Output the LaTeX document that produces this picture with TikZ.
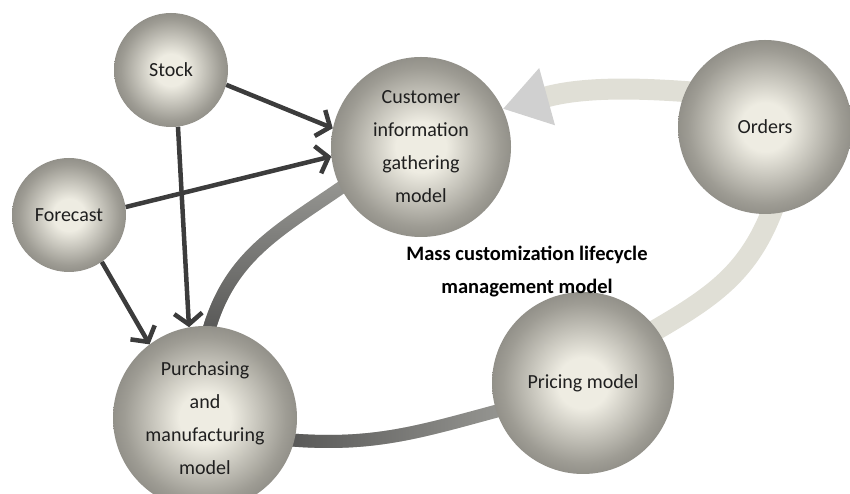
\documentclass[tikz,border=0pt]{standalone}
\usepackage{fontspec}
\setmainfont{Carlito}
\usetikzlibrary{arrows.meta,backgrounds,fadings}

\definecolor{ballin}{RGB}{238,236,226}
\definecolor{ballmid}{RGB}{158,156,148}
\definecolor{balldeep}{RGB}{100,99,95}
\definecolor{ballout}{RGB}{68,67,64}
\definecolor{linkdark}{RGB}{60,60,60}
\definecolor{loopdark}{RGB}{88,88,87}
\definecolor{loopmid}{RGB}{150,150,146}
\definecolor{looplight}{RGB}{224,223,214}
\definecolor{headgray}{RGB}{208,208,208}

\pgfdeclareradialshading{ballshade}{\pgfpoint{0bp}{0bp}}{%
  color(0bp)=(ballin); color(7bp)=(ballin); color(22bp)=(ballmid);
  color(37bp)=(balldeep); color(50bp)=(ballout)}
\tikzfading[name=fade right, left color=transparent!0, right color=transparent!100]
\tikzfading[name=fade up, bottom color=transparent!0, top color=transparent!100]

\begin{document}
\begin{tikzpicture}[x=1pt, y=1pt,
  ball/.style={circle, shading=ballshade, inner sep=0pt, align=center, text=black!88,
    font=\fontsize{20}{33}\selectfont},
  feed/.style={draw=linkdark, line width=4.5pt, -{Straight Barb[length=11pt, width=28pt]}},
  loop dark/.style={line width=13pt, shorten <=-10pt, shorten >=-10pt},
  loop light/.style={draw=looplight, line width=21pt, shorten <=-10pt}]
  \useasboundingbox (0,0) rectangle (850,494);
  \node[ball, minimum size=114pt] (stock) at (171,424) {Stock};
  \node[ball, minimum size=114pt] (fc) at (69,279) {Forecast};
  \node[ball, minimum size=180pt] (cus) at (421,347) {Customer\\information\\gathering\\model};
  \node[ball, minimum size=174pt] (ord) at (765,367) {Orders};
  \node[ball, minimum size=184pt] (pur) at (205,76) {Purchasing\\and\\manufacturing\\model};
  \node[ball, minimum size=182pt] (pri) at (583,111) {Pricing model};
  \node[align=center, font=\bfseries\fontsize{20.5}{33}\selectfont] (title) at (527,222)
    {Mass customization lifecycle\\management model};
  % inputs
  \draw[feed] (stock.-15) -- (cus.168);
  \draw[feed] (fc.8) -- (cus.186);
  \draw[feed] (stock.-83) -- (pur.100);
  \draw[feed] (fc.-55) -- (pur.127);
  % lifecycle loop
  \begin{pgfonlayer}{background}
    \draw[loop dark, draw=loopmid] (pur.87) to[out=75, in=215] (cus.207);
    \draw[loop dark, draw=loopdark, path fading=fade up] (pur.87) to[out=75, in=215] (cus.207);
    \draw[loop dark, draw=loopmid] (pur.-14) to[out=-5, in=195] (pri.198);
    \draw[loop dark, draw=loopdark, path fading=fade right] (pur.-14) to[out=-5, in=195] (pri.198);
    \draw[loop light, shorten >=-10pt] (pri.36) to[out=30, in=-110] (ord.-86);
    \draw[loop light, -{Triangle[length=46pt, width=56pt, color=headgray]}] (ord.156) to[bend right=10] (cus.25);
  \end{pgfonlayer}
\end{tikzpicture}
\end{document}
